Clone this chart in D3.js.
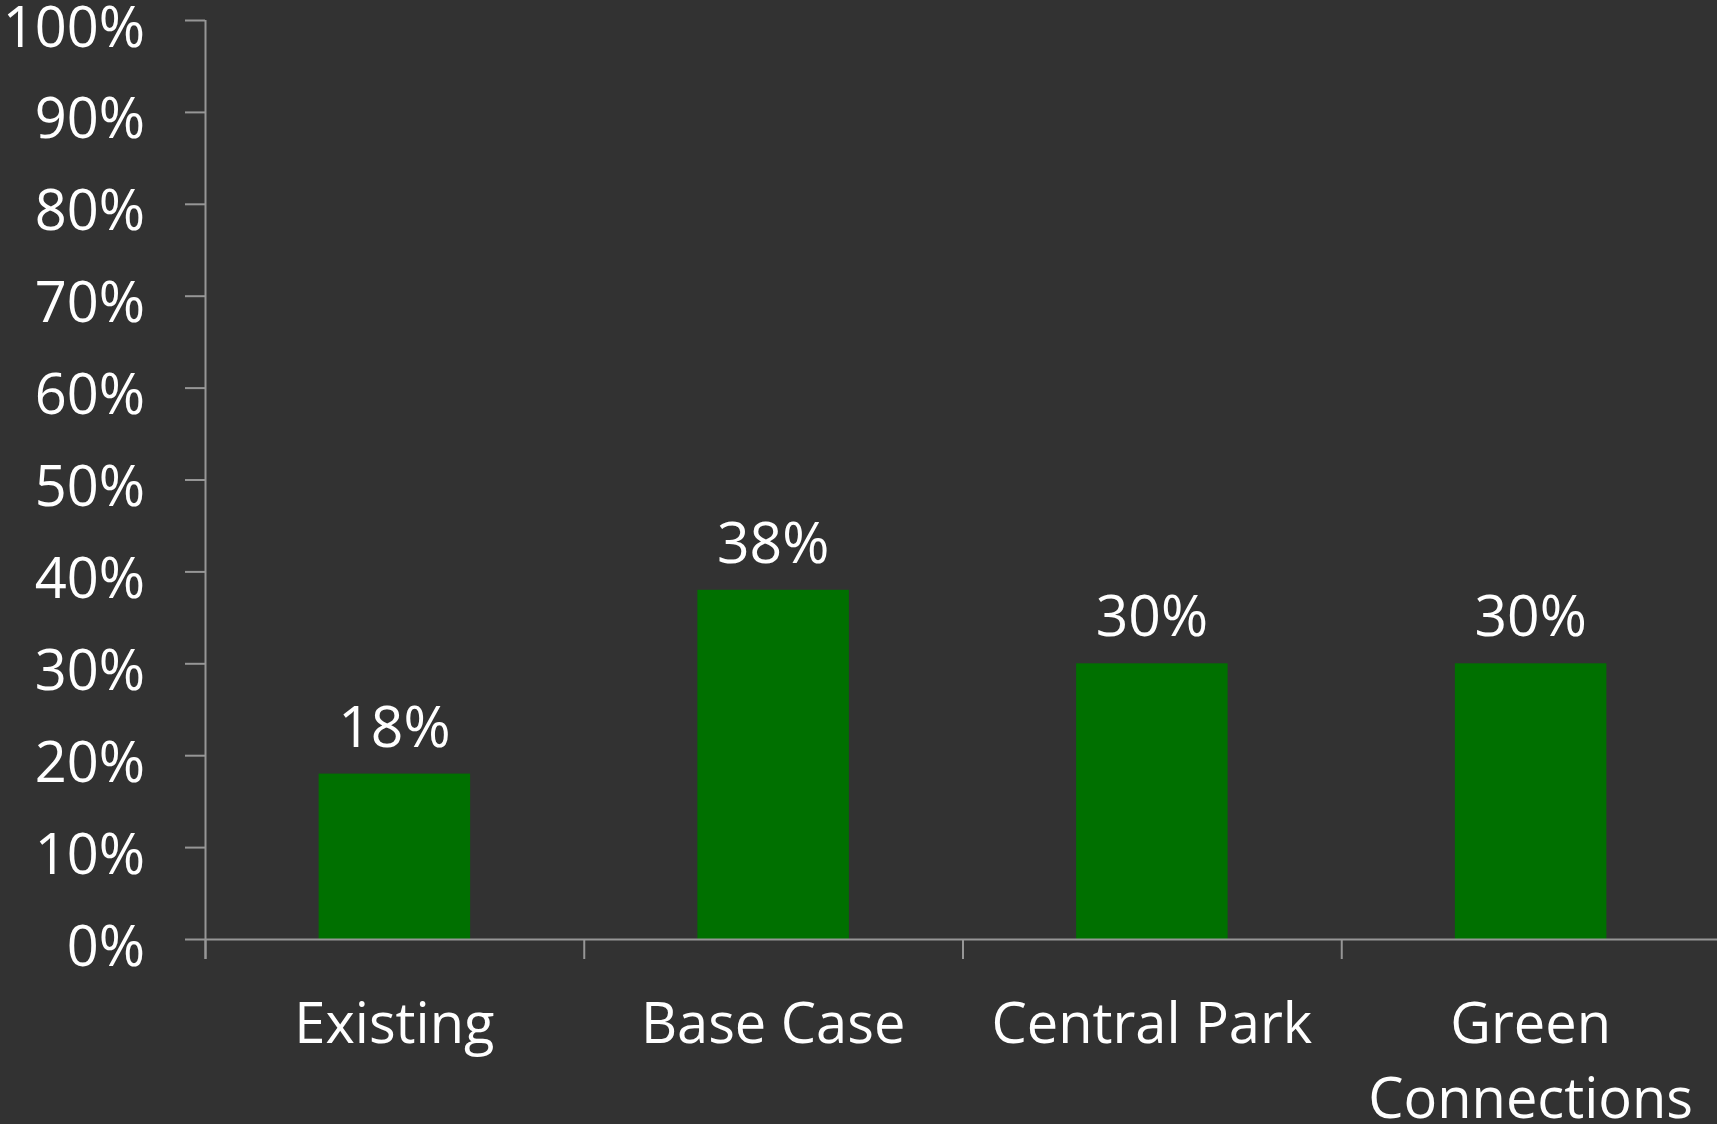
<!DOCTYPE html>
<html>
<head>
<meta charset="utf-8">
<script src="https://cdn.jsdelivr.net/npm/d3@7"></script>
<style>
  html, body { margin: 0; padding: 0; background: #323232; }
  svg { display: block; }
  text { font-family: 'Open Sans', sans-serif; fill: #ffffff; }
</style>
</head>
<body>
<svg id="chart"></svg>
<script>
const categories = ['Existing', 'Base Case', 'Central Park', 'Green Connections'];
const shares = [0.18, 0.38, 0.30, 0.30];
const yTicks = [0, 0.1, 0.2, 0.3, 0.4, 0.5, 0.6, 0.7, 0.8, 0.9, 1.0];

const W = 1717, H = 1124;
const margin = { top: 20, right: -3, bottom: 185, left: 205 };
const width = W - margin.left - margin.right;
const height = H - margin.top - margin.bottom;
const axisColor = '#969696';

const svg = d3.select('#chart').attr('width', W).attr('height', H);
svg.append('rect').attr('width', W).attr('height', H).attr('fill', '#323232');

const g = svg.append('g').attr('transform', `translate(${margin.left},${margin.top})`);

const x = d3.scaleBand().domain(categories).range([0, width])
  .paddingInner(0.6).paddingOuter(0.3);
const y = d3.scaleLinear().domain([0, 1]).range([height, 0]);

// bars
g.selectAll('rect.bar')
  .data(categories)
  .enter()
  .append('rect')
  .attr('class', 'bar')
  .attr('x', d => x(d))
  .attr('width', x.bandwidth())
  .attr('y', (d, i) => y(shares[i]))
  .attr('height', (d, i) => height - y(shares[i]))
  .attr('fill', '#007000');

// value labels
g.selectAll('text.val')
  .data(categories)
  .enter()
  .append('text')
  .attr('class', 'val')
  .attr('x', d => x(d) + x.bandwidth() / 2)
  .attr('y', (d, i) => y(shares[i]) - 27)
  .attr('text-anchor', 'middle')
  .attr('font-size', '57px')
  .text((d, i) => d3.format('.0%')(shares[i]));

// y axis
const yAxis = g.append('g')
  .call(d3.axisLeft(y).tickValues(yTicks).tickFormat(d3.format('.0%'))
    .tickSize(20).tickSizeOuter(0).tickPadding(40));
yAxis.select('.domain').attr('stroke', axisColor).attr('stroke-width', 2)
  .attr('d', `M0.5,0V${height + 20}`);
yAxis.selectAll('.tick line').attr('stroke', axisColor).attr('stroke-width', 2);
yAxis.selectAll('.tick text')
  .attr('fill', '#ffffff')
  .attr('font-size', '56px')
  .attr('font-family', "'Open Sans', sans-serif")
  .attr('dy', '0')
  .attr('y', 26);

// x axis with separators between categories
const step = x.step();
const bounds = d3.range(categories.length).map(i => x(categories[i]) - step * 0.3);
const xAxis = g.append('g').attr('transform', `translate(0,${height})`);
xAxis.append('line')
  .attr('x1', 0).attr('x2', width)
  .attr('y1', 0.5).attr('y2', 0.5)
  .attr('stroke', axisColor).attr('stroke-width', 2);
xAxis.selectAll('line.sep')
  .data(bounds)
  .enter()
  .append('line')
  .attr('class', 'sep')
  .attr('x1', d => d + 0.5).attr('x2', d => d + 0.5)
  .attr('y1', 0).attr('y2', 20)
  .attr('stroke', axisColor).attr('stroke-width', 2);

// category labels (wrapped to band step)
const catLabels = xAxis.selectAll('text.cat')
  .data(categories)
  .enter()
  .append('text')
  .attr('class', 'cat')
  .attr('x', d => x(d) + x.bandwidth() / 2)
  .attr('y', 104)
  .attr('text-anchor', 'middle')
  .attr('font-size', '56px');

catLabels.each(function (d) {
  const t = d3.select(this);
  const cx = x(d) + x.bandwidth() / 2;
  const words = d.split(' ');
  let line = [];
  let tspan = t.append('tspan').attr('x', cx).attr('dy', 0);
  words.forEach(w => {
    line.push(w);
    tspan.text(line.join(' '));
    if (tspan.node().getComputedTextLength() > step - 20 && line.length > 1) {
      line.pop();
      tspan.text(line.join(' '));
      line = [w];
      tspan = t.append('tspan').attr('x', cx).attr('dy', 75).text(w);
    }
  });
});
</script>
</body>
</html>
